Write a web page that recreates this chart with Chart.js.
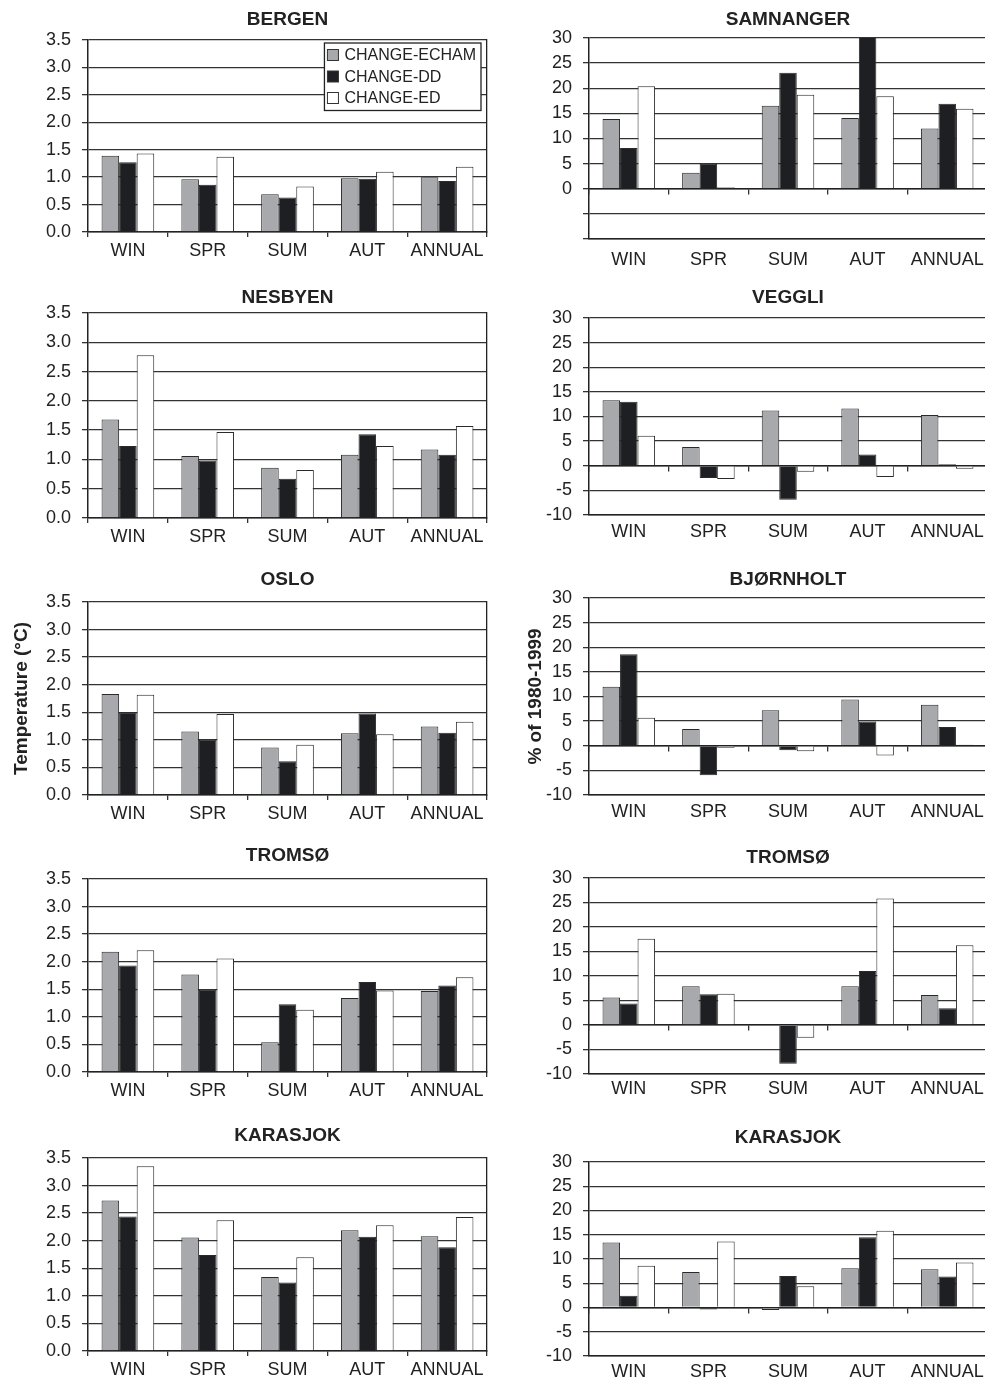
<!DOCTYPE html>
<html>
<head>
<meta charset="utf-8">
<script src="https://cdn.jsdelivr.net/npm/chart.js@4.4.0/dist/chart.umd.min.js"></script>
<style>
  html, body { margin: 0; padding: 0; background: #fff; overflow: hidden; }
  body { width: 985px; height: 1382px; position: relative; }
  canvas { position: absolute; }
</style>
</head>
<body>
<script>
const seasons = ["WIN", "SPR", "SUM", "AUT", "ANNUAL"];
const seriesNames = ["CHANGE-ECHAM", "CHANGE-DD", "CHANGE-ED"];

// temperature change (°C)
const bergenEcham = [1.39, 0.96, 0.69, 0.98, 1.00];
const bergenDD    = [1.27, 0.86, 0.63, 0.97, 0.93];
const bergenED    = [1.43, 1.37, 0.83, 1.10, 1.19];

const nesbyenEcham = [1.68, 1.06, 0.86, 1.08, 1.17];
const nesbyenDD    = [1.23, 0.98, 0.67, 1.43, 1.08];
const nesbyenED    = [2.78, 1.47, 0.82, 1.23, 1.57];

const osloEcham = [1.83, 1.15, 0.86, 1.12, 1.24];
const osloDD    = [1.50, 1.00, 0.61, 1.48, 1.13];
const osloED    = [1.82, 1.47, 0.91, 1.10, 1.33];

const tromsoTEcham = [2.18, 1.77, 0.54, 1.34, 1.47];
const tromsoTDD    = [1.93, 1.49, 1.23, 1.63, 1.57];
const tromsoTED    = [2.21, 2.06, 1.13, 1.48, 1.72];

const karasjokTEcham = [2.73, 2.06, 1.34, 2.19, 2.08];
const karasjokTDD    = [2.44, 1.74, 1.24, 2.07, 1.88];
const karasjokTED    = [3.35, 2.37, 1.70, 2.28, 2.43];

// precipitation change (% of 1980-1999)
const samnangerEcham = [13.9, 3.2, 16.5, 14.1, 12.0];
const samnangerDD    = [8.1, 5.0, 23.1, 34.0, 16.9];
const samnangerED    = [20.4, 0.3, 18.7, 18.4, 15.9];

const veggliEcham = [13.3, 3.8, 11.2, 11.6, 10.3];
const veggliDD    = [13.0, -2.5, -6.9, 2.3, 0.3];
const veggliED    = [6.1, -2.7, -1.2, -2.3, -0.6];

const bjornholtEcham = [12.0, 3.4, 7.2, 9.4, 8.3];
const bjornholtDD    = [18.6, -6.0, -0.9, 4.9, 3.8];
const bjornholtED    = [5.7, -0.4, -1.1, -2.0, 0.2];

const tromsoPEcham = [5.6, 7.9, 0.2, 7.9, 6.1];
const tromsoPDD    = [4.4, 6.3, -7.9, 11.0, 3.4];
const tromsoPED    = [17.6, 6.4, -2.6, 25.8, 16.3];

const karasjokPEcham = [13.4, 7.3, -0.5, 8.1, 7.9];
const karasjokPDD    = [2.4, -0.4, 6.5, 14.5, 6.4];
const karasjokPED    = [8.6, 13.6, 4.4, 15.8, 9.3];

const barColors = ["#a8a9ac", "#1e1f22", "#ffffff"];
const FONT = '"Liberation Sans", Arial, Helvetica, sans-serif';
Chart.defaults.font.family = FONT;
Chart.defaults.color = "#222";

// legend box drawn inside the plot (Bergen only)
const boxLegend = {
    id: "boxLegend",
    afterDraw: function (chart) {
        const ctx = chart.ctx;
        const area = chart.chartArea;
        ctx.save();
        ctx.font = "16px " + FONT;
        const names = chart.data.datasets.map(d => d.label);
        const textW = Math.max.apply(null, names.map(t => ctx.measureText(t).width));
        const sym = 11, rowH = 21.5;
        const w = 3 + sym + 6 + textW + 5;
        const h = rowH * 3 + 3;
        const x = area.right - 6 - w;
        const y = area.top + 3;
        ctx.fillStyle = "#fff";
        ctx.fillRect(x, y, w, h);
        ctx.strokeStyle = "#222";
        ctx.lineWidth = 1.3;
        ctx.strokeRect(x, y, w, h);
        ctx.textBaseline = "middle";
        chart.data.datasets.forEach((d, i) => {
            const cy = y + 12 + i * rowH;
            ctx.fillStyle = d.backgroundColor;
            ctx.fillRect(x + 3, cy - sym / 2, sym, sym);
            ctx.lineWidth = 1;
            ctx.strokeStyle = "#333";
            ctx.strokeRect(x + 3, cy - sym / 2, sym, sym);
            ctx.fillStyle = "#222";
            ctx.fillText(d.label, x + 3 + sym + 6, cy + 1);
        });
        ctx.restore();
    }
};

const panels = [
    { title: "BERGEN", col: 0, series: [bergenEcham, bergenDD, bergenED], titleY: 19.5, top: 40, bottom: 232, legend: true },
    { title: "NESBYEN", col: 0, series: [nesbyenEcham, nesbyenDD, nesbyenED], titleY: 297, top: 313, bottom: 518 },
    { title: "OSLO", col: 0, series: [osloEcham, osloDD, osloED], titleY: 579.5, top: 602, bottom: 795, yTitle: "Temperature (°C)" },
    { title: "TROMSØ", col: 0, series: [tromsoTEcham, tromsoTDD, tromsoTED], titleY: 855.5, top: 879, bottom: 1072 },
    { title: "KARASJOK", col: 0, series: [karasjokTEcham, karasjokTDD, karasjokTED], titleY: 1135.5, top: 1158, bottom: 1351 },
    { title: "SAMNANGER", col: 1, series: [samnangerEcham, samnangerDD, samnangerED], titleY: 19, top: 38, bottom: 239, hideNeg: true, labelPad: 10 },
    { title: "VEGGLI", col: 1, series: [veggliEcham, veggliDD, veggliED], titleY: 297, top: 318, bottom: 515 },
    { title: "BJØRNHOLT", col: 1, series: [bjornholtEcham, bjornholtDD, bjornholtED], titleY: 579, top: 598, bottom: 795, yTitle: "% of 1980-1999" },
    { title: "TROMSØ", col: 1, series: [tromsoPEcham, tromsoPDD, tromsoPED], titleY: 857, top: 878, bottom: 1074, labelPad: 4 },
    { title: "KARASJOK", col: 1, series: [karasjokPEcham, karasjokPDD, karasjokPED], titleY: 1137, top: 1162, bottom: 1356, labelPad: 5 }
];

function makePanel(p) {
    const temp = p.col === 0;
    const W = 495;
    const T = Math.round(p.titleY - 13.4);
    const H = Math.round(p.bottom + 30 - T);
    const padBottom = p.top - T - 2 - 22.8;

    const canvas = document.createElement("canvas");
    canvas.width = W;
    canvas.height = H;
    canvas.style.left = (temp ? 0 : 500) + "px";
    canvas.style.top = T + "px";
    canvas.style.width = W + "px";
    canvas.style.height = H + "px";
    document.body.appendChild(canvas);

    const tickFont = { size: 18 };
    const lineCol = "#333";

    const scales = {
        x: {
            offset: true,
            grid: temp
                ? { display: true, offset: true, drawOnChartArea: false, drawTicks: true, tickLength: 5, color: lineCol, lineWidth: 1.3 }
                : { display: false, drawTicks: false },
            border: { display: true, color: "#222", width: 1.5 },
            ticks: { font: tickFont, color: "#222", padding: temp ? 3 : (p.labelPad || 6), maxRotation: 0, autoSkip: false },
            afterFit: s => { s.height = 30; }
        },
        y: {
            min: temp ? 0 : -10,
            max: temp ? 3.5 : 30,
            grid: { color: lineCol, lineWidth: 1.3, tickLength: 6 },
            border: { display: true, color: "#222", width: 1.5 },
            ticks: {
                stepSize: temp ? 0.5 : 5,
                autoSkip: false,
                font: tickFont,
                color: "#222",
                padding: 11,
                callback: v => temp ? v.toFixed(1) : (p.hideNeg && v < 0 ? "" : String(v))
            },
            title: p.yTitle
                ? { display: true, text: p.yTitle, font: { size: 19, weight: "bold" }, color: "#222", padding: { top: temp ? 10 : 24, bottom: 0 } }
                : { display: false },
            afterFit: s => { s.width = temp ? 88 : 89; }
        },
        yr: {
            position: "right",
            grid: { display: false, drawTicks: false },
            ticks: { display: false },
            border: { display: true, color: "#222", width: 1.3 },
            afterFit: s => { s.width = 0; }
        }
    };
    if (!temp) {
        // tick marks on the zero line
        scales.x0 = {
            type: "category",
            labels: seasons,
            position: { y: 0 },
            offset: true,
            grid: { display: true, offset: true, drawOnChartArea: false, drawTicks: true, tickLength: 5, color: lineCol, lineWidth: 1.3 },
            border: { display: true, color: "#222", width: 1.5 },
            ticks: { display: false }
        };
    }

    new Chart(canvas, {
        type: "bar",
        data: {
            labels: seasons,
            datasets: seriesNames.map((name, i) => ({
                label: name,
                data: p.series[i],
                backgroundColor: barColors[i],
                borderColor: "#2a2a2a",
                borderWidth: 1,
                categoryPercentage: 0.66,
                barPercentage: 1.0
            }))
        },
        options: {
            responsive: false,
            animation: false,
            devicePixelRatio: 1,
            layout: { padding: { left: 0, right: 8, top: 0, bottom: 0 } },
            plugins: {
                legend: { display: false },
                tooltip: { enabled: false },
                title: {
                    display: true,
                    text: p.title,
                    fullSize: false,
                    color: "#222",
                    font: { size: 19, weight: "bold" },
                    padding: { top: 2, bottom: padBottom }
                }
            },
            scales: scales
        },
        plugins: p.legend ? [boxLegend] : []
    });
}

panels.forEach(makePanel);
</script>
</body>
</html>
